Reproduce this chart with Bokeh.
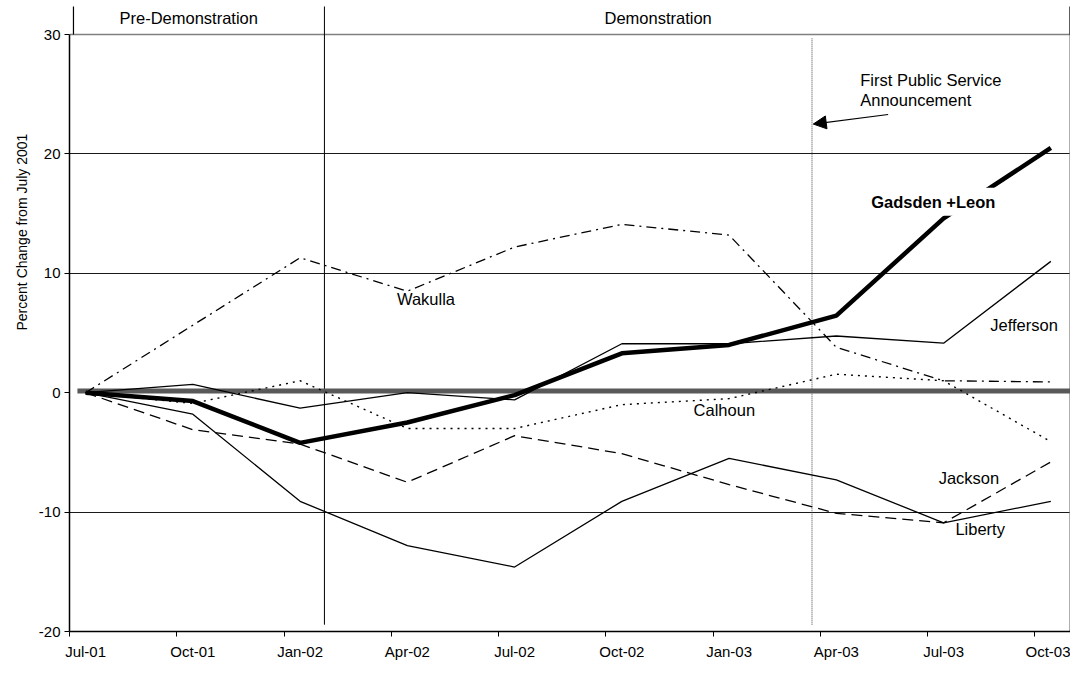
from bokeh.plotting import figure
from bokeh.models import Range1d, FixedTicker, Arrow, NormalHead, Title
from bokeh.core.properties import value
from bokeh.embed import file_html
from bokeh.resources import INLINE

# ---- data ----
dates = ["Jul-01", "Oct-01", "Jan-02", "Apr-02", "Jul-02",
         "Oct-02", "Jan-03", "Apr-03", "Jul-03", "Oct-03"]
gadsden_leon = [0, -0.7, -4.2, -2.5, -0.2, 3.3, 4.0, 6.45, 14.6, 20.5]
jefferson = [0, 0.7, -1.3, 0.0, -0.6, 4.1, 4.1, 4.75, 4.15, 11.0]
liberty = [0, -1.8, -9.1, -12.8, -14.6, -9.1, -5.5, -7.3, -10.9, -9.1]
jackson = [0, -3.1, -4.3, -7.5, -3.6, -5.1, -7.7, -10.1, -10.9, -5.8]
calhoun = [0, -0.9, 1.0, -3.0, -3.0, -1.0, -0.5, 1.55, 1.0, -4.1]
wakulla = [0, 5.65, 11.3, 8.5, 12.2, 14.1, 13.2, 3.8, 1.0, 0.9]
baseline = [0.15, 0.15]
y_ticks = [-20, -10, 0, 10, 20, 30]
y_tick_labels = ["-20", "-10", "0", "10", "20", "30"]
grid_ticks = [-10, 10, 20]

x = list(range(len(dates)))
FONT = value("Liberation Sans")

X0, X1 = -0.15, 9.1833
Y0, Y1 = -20, 32.848
HDR = 32.345  # top of the header dividers

p = figure(width=1070, height=662, x_range=Range1d(X0, X1), y_range=Range1d(Y0, Y1),
           output_backend="svg", toolbar_location=None,
           min_border_left=69, min_border_right=0, min_border_top=0, min_border_bottom=29)
p.outline_line_color = None
p.background_fill_color = "white"
p.border_fill_color = "white"

# grid
p.xgrid.visible = False
p.ygrid.ticker = FixedTicker(ticks=grid_ticks)
p.ygrid.grid_line_color = "#1a1a1a"
p.ygrid.grid_line_width = 1

# axes
p.yaxis.ticker = FixedTicker(ticks=y_ticks)
p.yaxis.major_label_overrides = {t: s for t, s in zip(y_ticks, y_tick_labels)}
p.yaxis.bounds = (-20, 30)
p.yaxis.axis_line_color = "black"
p.yaxis.axis_line_width = 1.5
p.yaxis.major_tick_out = 5
p.yaxis.major_tick_in = 0
p.yaxis.minor_tick_line_color = None
p.yaxis.major_label_text_font = "Liberation Sans"
p.yaxis.major_label_text_font_size = "15px"
p.yaxis.major_label_text_color = "black"
p.yaxis.major_label_standoff = 4

p.xaxis.ticker = FixedTicker(ticks=x, minor_ticks=[i - 0.15 for i in x])
p.xaxis.major_label_overrides = {i: d for i, d in zip(x, dates)}
p.xaxis.axis_line_color = "black"
p.xaxis.axis_line_width = 1.5
p.xaxis.major_tick_line_color = None
p.xaxis.major_tick_out = 0
p.xaxis.major_tick_in = 0
p.xaxis.minor_tick_line_color = "black"
p.xaxis.minor_tick_out = 5
p.xaxis.minor_tick_in = 0
p.xaxis.major_label_text_font = "Liberation Sans"
p.xaxis.major_label_text_font_size = "15px"
p.xaxis.major_label_text_color = "black"
p.xaxis.major_label_standoff = 6

# y axis title (placed like the original, above centre)
p.add_layout(Title(text="Percent Change from July 2001", align="left", offset=301,
                   standoff=12, text_font="Liberation Sans", text_font_size="14px",
                   text_font_style="normal", text_color="black"), "left")

# frame pieces
p.line([X0, X1], [30, 30], line_color="#808080", line_width=1.5)
p.line([X1 - 0.005, X1 - 0.005], [-20, 30], line_color="#808080", line_width=1.2)
p.line([X1 - 0.005, X1 - 0.005], [30, HDR], line_color="black", line_width=1.2)
p.line([-0.113, -0.113], [30, HDR], line_color="black", line_width=1.2)

# phase divider and PSA marker
p.line([2.227, 2.227], [-19.43, HDR], line_color="black", line_width=1)
p.line([6.773, 6.773], [-19.43, 29.7], line_color="#444444", line_width=1, line_dash="1 1")

# baseline
p.line([-0.076, X1], baseline, line_color="#595959", line_width=5)

# series
p.line(x, wakulla, line_color="black", line_width=1.3, line_dash="10 5 2 5")
p.line(x, calhoun, line_color="black", line_width=1.4, line_dash="2 5")
p.line(x, jackson, line_color="black", line_width=1.3, line_dash="11 6")
p.line(x, liberty, line_color="black", line_width=1.3)
p.line(x, jefferson, line_color="black", line_width=1.3)
p.line(x, gadsden_leon, line_color="black", line_width=4.5)

# arrow
p.add_layout(Arrow(end=NormalHead(size=13, fill_color="black", line_color="black"),
                   x_start=7.483, y_start=23.3, x_end=6.785, y_end=22.5,
                   line_color="black", line_width=1.2))

# texts
lab_names = ["Wakulla", "Jefferson", "Calhoun", "Jackson", "Liberty",
             "First Public Service", "Announcement", "Pre-Demonstration", "Demonstration"]
lab_x = [2.903, 8.435, 5.669, 7.954, 8.11, 7.223, 7.223, 0.316, 4.838]
lab_y = [7.85, 5.65, -1.44, -7.15, -11.4, 26.2, 24.5, 31.42, 31.42]
p.text(x=lab_x, y=lab_y, text=lab_names, text_font=FONT, text_font_size="16.5px",
       text_baseline="middle", text_align="left", text_color="black")
p.text(x=[7.278], y=[16.0], text=["Gadsden +Leon"], text_font=FONT, text_font_size="16.5px",
       text_font_style="bold", text_baseline="middle", text_align="left", text_color="black",
       background_fill_color="white", padding=5)

open("out.html", "w").write(file_html(p, INLINE))
